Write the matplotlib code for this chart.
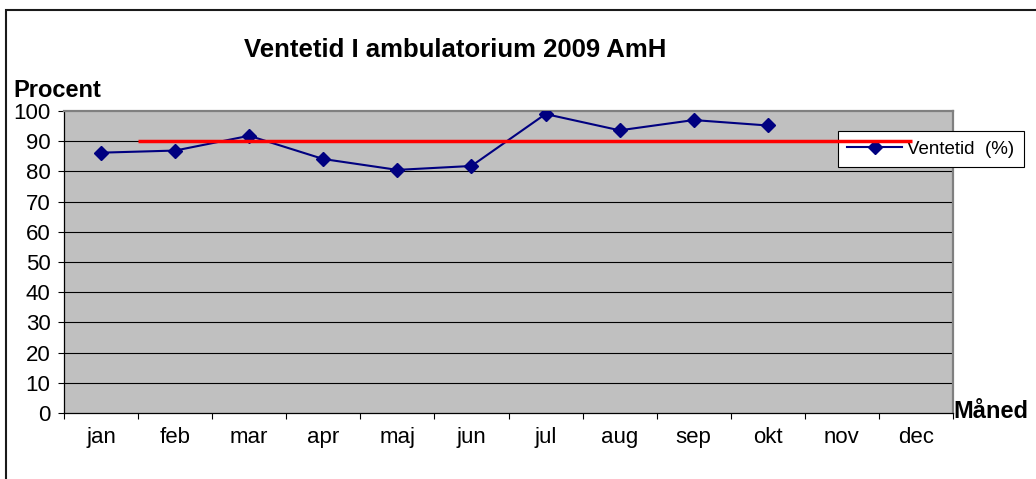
import numpy as np
import matplotlib.pyplot as plt
from matplotlib.patches import Rectangle

# data
months = ['jan', 'feb', 'mar', 'apr', 'maj', 'jun',
          'jul', 'aug', 'sep', 'okt', 'nov', 'dec']
ventetid = [86.2, 86.9, 91.8, 84.1, 80.5, 81.8, 99.0, 93.6, 97.0, 95.2]
target = 90
target_start = 0.5
target_end = 10.95

plt.rcParams['font.family'] = ['Liberation Sans', 'DejaVu Sans']

fig = plt.figure(figsize=(10.36, 4.79), dpi=100)
W, H = 1036, 479
ax = fig.add_axes([64 / W, 1 - 413 / H, (953 - 64) / W, (413 - 111) / H])
ax.set_facecolor('#C0C0C0')

x = np.arange(len(months))
ax.plot(x[:len(ventetid)], ventetid, color='#000080', lw=1.5,
        marker='D', markersize=7, label='Ventetid  (%)', zorder=3)
ax.hlines(target, target_start, target_end, color='#FF0000', lw=2.5, zorder=6)

ax.set_xlim(-0.5, len(months) - 0.5)
ax.set_ylim(0, 100)

# y axis
ax.set_yticks(np.arange(0, 101, 10))
ax.tick_params(axis='y', direction='out', length=4.3, width=0.8, pad=5.5,
               labelsize=16)
for v in range(10, 100, 10):
    ax.axhline(v, color='black', lw=0.8, zorder=1)

# x axis: ticks at category borders, labels in the middle
ax.set_xticks(np.arange(-0.5, len(months), 1))
ax.set_xticklabels([])
ax.set_xticks(x, minor=True)
ax.set_xticklabels(months, minor=True)
ax.tick_params(axis='x', which='major', direction='out', length=4.3, width=0.8)
ax.tick_params(axis='x', which='minor', length=0, pad=10, labelsize=16)

for s in ['top', 'right']:
    ax.spines[s].set_color('#808080')
    ax.spines[s].set_linewidth(1.6)
for s in ['left', 'bottom']:
    ax.spines[s].set_color('black')
    ax.spines[s].set_linewidth(0.9)

leg = ax.legend(loc='upper left', bbox_to_anchor=(838 / W, 1 - 131 / H),
                bbox_transform=fig.transFigure, borderaxespad=0,
                fancybox=False, edgecolor='black', framealpha=1,
                fontsize=13.5, handlelength=2.9, handletextpad=0.3,
                borderpad=0.5)
leg.get_frame().set_linewidth(0.8)
leg.set_zorder(5)

fig.text(455 / W, 1 - 57 / H, 'Ventetid I ambulatorium 2009 AmH',
         ha='center', va='baseline', fontsize=18.5, fontweight='bold')
fig.text(13 / W, 1 - 97 / H, 'Procent', ha='left', va='baseline',
         fontsize=17, fontweight='bold')
fig.text(953 / W, 1 - 418 / H, 'Måned', ha='left', va='baseline',
         fontsize=17, fontweight='bold')

# chart frame, cut off at the right and bottom
fig.patches.append(Rectangle((6 / W, -0.1), 2, 1.1 - 10 / H,
                             transform=fig.transFigure, fill=False,
                             edgecolor='#1a1a1a', lw=1.5))

fig.savefig('out.png', dpi=100)
